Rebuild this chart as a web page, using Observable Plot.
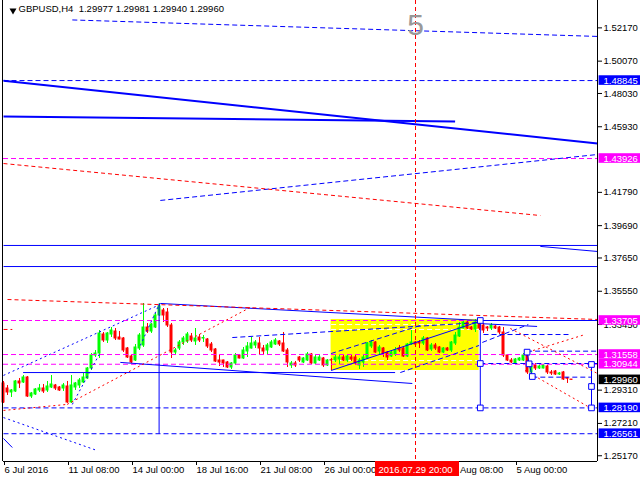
<!DOCTYPE html>
<html><head><meta charset="utf-8">
<script src="https://cdn.jsdelivr.net/npm/d3@7"></script>
<script src="https://cdn.jsdelivr.net/npm/@observablehq/plot@0.6"></script>
<style>html,body{margin:0;padding:0;background:#fff;} svg{display:block}</style>
</head><body><div id="chart"></div>
<script>
const symbol = "GBPUSD,H4";
const lastQuote = [1.29977, 1.29981, 1.29940, 1.29960];

const open = [1.29731,1.29415,1.29163,1.29226,1.29857,1.29794,1.30109,1.28910,1.29037,1.29289,
1.29415,1.29289,1.29478,1.29604,1.29478,1.29415,1.29541,1.28532,1.29478,1.29604,
1.29794,1.30046,1.30677,1.31497,1.31623,1.32822,1.32443,1.32822,1.33011,1.32632,
1.32569,1.31938,1.31434,1.31181,1.31938,1.32128,1.33263,1.33011,1.33263,1.34021,
1.34336,1.34210,1.33390,1.31686,1.31938,1.32317,1.32380,1.32695,1.32380,1.32632,
1.32569,1.32506,1.32191,1.31875,1.31181,1.31181,1.31055,1.30740,1.30992,1.31497,
1.31308,1.31749,1.31938,1.32128,1.32254,1.31938,1.31812,1.32002,1.32191,1.32380,
1.32254,1.31812,1.30866,1.30992,1.31371,1.31055,1.31181,1.31560,1.30992,1.31181,
1.31308,1.30866,1.31200,1.31181,1.31245,1.31371,1.31181,1.31371,1.31371,1.30866,
1.31055,1.31308,1.32065,1.32317,1.31749,1.31938,1.31686,1.31434,1.31560,1.31938,
1.31938,1.31434,1.32191,1.32317,1.32317,1.32254,1.32569,1.31875,1.32128,1.32002,
1.31686,1.31938,1.31812,1.32254,1.32695,1.33200,1.33579,1.33263,1.33137,1.33705,
1.33390,1.33263,1.33200,1.33326,1.33263,1.32948,1.31497,1.31181,1.30992,1.31181,
1.31181,1.31623,1.30425,1.30866,1.30677,1.30677,1.30803,1.30425,1.30488,1.30298,
1.30425,1.30060,1.29977];
const high = [1.29857,1.29604,1.29352,1.29920,1.30046,1.30235,1.30172,1.29163,1.29415,1.29668,
1.29668,1.29857,1.30235,1.29668,1.29541,1.29731,1.29857,1.30235,1.29794,1.30046,
1.30361,1.30740,1.31623,1.31812,1.33074,1.32948,1.32948,1.33263,1.33200,1.33011,
1.32632,1.32002,1.31497,1.32191,1.32885,1.34778,1.33516,1.33516,1.34147,1.34778,
1.34462,1.34462,1.33516,1.31938,1.32443,1.32695,1.32948,1.32885,1.33200,1.32822,
1.32758,1.32569,1.32317,1.31938,1.31497,1.31200,1.31118,1.31055,1.31623,1.31560,
1.32002,1.32317,1.32632,1.32443,1.32632,1.32128,1.32254,1.32443,1.32569,1.32443,
1.32948,1.31938,1.31118,1.31118,1.31434,1.31371,1.31686,1.31623,1.31497,1.31497,
1.31371,1.31245,1.31308,1.31560,1.31560,1.31497,1.31560,1.31497,1.31497,1.31308,
1.31497,1.32317,1.32443,1.32380,1.32128,1.32002,1.31749,1.31812,1.32002,1.32128,
1.32002,1.32254,1.33074,1.32380,1.32443,1.32695,1.32632,1.32254,1.32254,1.32065,
1.32002,1.32002,1.32380,1.32948,1.33579,1.33642,1.33642,1.33326,1.33768,1.33768,
1.33516,1.33326,1.33516,1.33390,1.33326,1.33263,1.31560,1.31308,1.31308,1.31371,
1.31623,1.31749,1.30929,1.30992,1.30866,1.30929,1.30866,1.30551,1.30551,1.30425,
1.30488,1.30109,1.29981];
const low = [1.28469,1.28974,1.28847,1.29163,1.29415,1.29731,1.28847,1.28784,1.28974,1.29163,
1.29100,1.29163,1.29415,1.29289,1.29226,1.29226,1.28469,1.28469,1.29289,1.29415,
1.29731,1.29983,1.30551,1.31371,1.31308,1.32317,1.32254,1.32632,1.32443,1.32480,
1.31686,1.31308,1.30992,1.31118,1.31812,1.32002,1.32885,1.32885,1.33200,1.33958,
1.33579,1.33263,1.31308,1.31497,1.31812,1.32128,1.32254,1.32317,1.32128,1.32317,
1.32317,1.31938,1.31686,1.31055,1.30803,1.30740,1.30677,1.30614,1.30866,1.31280,
1.31245,1.31371,1.31900,1.31938,1.31497,1.31497,1.31497,1.31938,1.32128,1.32065,
1.31686,1.30740,1.30677,1.30740,1.31055,1.30992,1.31118,1.30929,1.30929,1.31118,
1.30740,1.30803,1.30551,1.31055,1.30929,1.31118,1.31055,1.31118,1.30866,1.30614,
1.30740,1.31245,1.31938,1.31623,1.31560,1.31371,1.31181,1.31371,1.31434,1.31686,
1.31371,1.31371,1.32128,1.32065,1.31938,1.32128,1.31749,1.31749,1.31812,1.31623,
1.31623,1.31749,1.31686,1.32128,1.32632,1.33180,1.33137,1.33074,1.32948,1.33074,
1.32885,1.33011,1.33074,1.33137,1.32822,1.31371,1.31118,1.30992,1.30929,1.31118,
1.31118,1.30298,1.30361,1.30551,1.30614,1.30650,1.30298,1.30235,1.30235,1.30235,
1.29920,1.29731,1.29940];
const close = [1.28532,1.29163,1.29289,1.29857,1.29731,1.30109,1.28910,1.29100,1.29352,1.29415,
1.29226,1.29541,1.29668,1.29415,1.29289,1.29604,1.28532,1.29604,1.29731,1.29920,
1.30109,1.30677,1.31497,1.31623,1.32885,1.32443,1.32885,1.33074,1.32569,1.32506,
1.31812,1.31371,1.31055,1.32002,1.32758,1.33263,1.33011,1.33453,1.34021,1.34588,
1.34021,1.33390,1.31686,1.31812,1.32317,1.32569,1.32822,1.32443,1.32569,1.32443,
1.32600,1.32065,1.31812,1.31118,1.31055,1.30992,1.30740,1.30992,1.31497,1.31308,
1.31812,1.32065,1.32254,1.32317,1.31938,1.31749,1.32128,1.32317,1.32443,1.32191,
1.31749,1.31055,1.30992,1.30866,1.31181,1.31308,1.31560,1.30992,1.31371,1.31371,
1.30866,1.31181,1.31181,1.31371,1.31371,1.31181,1.31434,1.31245,1.30992,1.31181,
1.31371,1.32254,1.32317,1.31686,1.32002,1.31623,1.31371,1.31686,1.31812,1.31812,
1.31434,1.32191,1.32317,1.32191,1.32254,1.32569,1.31812,1.32128,1.31938,1.31686,
1.31938,1.31812,1.32317,1.32758,1.33263,1.33579,1.33200,1.33137,1.33579,1.33200,
1.33074,1.33200,1.33390,1.33200,1.32948,1.31497,1.31181,1.31055,1.31245,1.31308,
1.31497,1.30425,1.30803,1.30677,1.30803,1.30866,1.30425,1.30361,1.30298,1.30361,
1.29983,1.30030,1.29960];

const timeTicks = [0, 16, 32, 48, 64, 80, 112, 128];
const timeLabels = ["6 Jul 2016", "11 Jul 08:00", "14 Jul 00:00", "18 Jul 16:00", "21 Jul 08:00",
  "26 Jul 00:00", "2 Aug 08:00", "5 Aug 00:00"];
const priceTicks = [1.52170, 1.50070, 1.48030, 1.45930, 1.41790, 1.39690, 1.37650,
  1.35550, 1.33450, 1.29310, 1.27210, 1.25170];
const labelPrices = [1.48845, 1.43926, 1.33705, 1.31558, 1.30944, 1.29960, 1.28190, 1.26561];
const labelColors = ["#0000ff", "#ff00ff", "#ff00ff", "#ff00ff", "#ff00ff", "#000000", "#0000ff", "#0000ff"];
const markedBar = 103;
const markedTime = "2016.07.29 20:00";
const waveLabel = "5";

// trend objects: [bar1, price1, bar2, price2]
const blueDashedSegs = [
  [0, 1.48845, 148.5, 1.48845], [0, 1.28190, 148.5, 1.28190], [0, 1.26561, 148.5, 1.26561],
  [17.2, 1.5267, 148.5, 1.5163], [39.2, 1.4128, 148.5, 1.4418], [57.2, 1.3263, 119.2, 1.3358],
  [81.9, 1.3162, 104.2, 1.3339], [99.2, 1.3042, 118.9, 1.3213], [130.9, 1.3177, 148.5, 1.3177],
  [119.2, 1.3099, 148.5, 1.3099], [132.2, 1.3013, 146.9, 1.3013], [120.0, 1.3282, 141.7, 1.3282],
  [119.7, 1.3232, 131.2, 1.3345]
];
const blueDottedSegs = [
  [0, 1.3024, 39.2, 1.3472], [0, 1.2758, 23.4, 1.2550], [17.2, 1.2841, 24.2, 1.3169], [34.2, 1.3213, 38.9, 1.3472]
];
const blueSolidSegs = [
  [0, 1.3844, 148.5, 1.3844], [134.2, 1.3838, 148.5, 1.3806], [0, 1.3711, 148.5, 1.3711],
  [4.9, 1.3042, 97.9, 1.3042], [29.2, 1.3106, 102.2, 1.2973], [38.9, 1.3478, 38.9, 1.26561],
  [81.9, 1.3055, 118.9, 1.3364], [39.2, 1.3478, 119.2, 1.33705], [119.2, 1.33705, 148.5, 1.33705],
  [0, 1.2626, 2.2, 1.2569], [119.2, 1.33705, 119.2, 1.28190], [130.9, 1.3171, 131.4, 1.3097],
  [131.4, 1.3097, 132.2, 1.3017], [147, 1.3093, 147, 1.28190], [119.9, 1.3350, 133.4, 1.3333]
];
const blueThickSegs = [[0, 1.4884, 148.5, 1.4487], [0, 1.4658, 112.9, 1.4626]];
const redDashedSegs = [[0, 1.4361, 134.2, 1.4033], [1, 1.3503, 148.5, 1.3377], [0, 1.3314, 2.2, 1.3314]];
const redDottedSegs = [
  [0, 1.2803, 15.9, 1.2841], [15.9, 1.2841, 61.7, 1.3453], [126.7, 1.3320, 148.5, 1.3036],
  [130.4, 1.3055, 147.4, 1.2809], [132.4, 1.3181, 145.4, 1.3282]
];
const magentaLevels = [1.43926, 1.33705, 1.31558, 1.30944];
const whiteLevels = [1.3345, 1.3314, 1.3118];
const yellowZone = [81.9, 118.9, 1.3055, 1.3377];
const markerPoints = [[119.2, 1.33705], [119.2, 1.3099], [119.2, 1.2819], [130.9, 1.3171], [131.4, 1.3097],
  [132.2, 1.3017], [147, 1.3093], [147, 1.2954], [147, 1.2819]];

const yMin = 1.24808, yMax = 1.53897, xMax = 148.5;

const candles = open.map((o, i) => ({i, o, h: high[i], l: low[i], c: close[i],
  col: close[i] >= open[i] ? "#00ff00" : "#ff0000"}));
const seg = a => a.map(([x1, y1, x2, y2]) => ({x1, y1, x2, y2}));
const segLink = (arr, o) => Plot.link(seg(arr), {x1: "x1", y1: "y1", x2: "x2", y2: "y2", ...o});
const labels = labelPrices.map((p, k) => ({p, color: labelColors[k]}));

const chart = Plot.plot({
  width: 640, height: 480,
  marginLeft: 3, marginRight: 43, marginTop: 0, marginBottom: 19,
  style: {background: "#fff", fontFamily: "Liberation Sans, Arial, sans-serif", fontSize: "9.5px", color: "#000"},
  x: {domain: [0, xMax]},
  y: {domain: [yMin, yMax]},
  color: {type: "identity"},
  marks: [
    Plot.rect([yellowZone], {x1: d => d[0], x2: d => d[1], y1: d => d[2], y2: d => d[3], fill: "#ffff00"}),
    Plot.link(whiteLevels, {x1: yellowZone[0], x2: yellowZone[1], y1: d => d, y2: d => d, stroke: "#fff", strokeDasharray: "5,3"}),
    Plot.ruleX(candles, {x: "i", y1: "l", y2: "h", stroke: "col"}),
    Plot.rect(candles, {x1: d => d.i - 0.375, x2: d => d.i + 0.375, y1: "o", y2: "c", fill: "col", insetTop: -0.5, insetBottom: -0.5}),
    Plot.ruleY(magentaLevels, {stroke: "#ff00ff", strokeDasharray: "5,3"}),
    segLink(blueThickSegs, {stroke: "#0000ff", strokeWidth: 2}),
    segLink(blueSolidSegs, {stroke: "#0000ff"}),
    segLink(blueDashedSegs, {stroke: "#0000ff", strokeDasharray: "5,3"}),
    segLink(blueDottedSegs, {stroke: "#0000ff", strokeDasharray: "2,3"}),
    segLink(redDashedSegs, {stroke: "#ff0000", strokeDasharray: "4,3"}),
    segLink(redDottedSegs, {stroke: "#ff0000", strokeDasharray: "2,3"}),
    Plot.ruleX([markedBar], {stroke: "#ff0000", strokeDasharray: "4,3"}),
    Plot.dot(markerPoints, {x: d => d[0], y: d => d[1], symbol: "square", r: 3.2, stroke: "#0000ff", fill: "#fff", strokeWidth: 1}),
    Plot.ruleX([0], {stroke: "#000", dx: -1}),
    Plot.ruleX([xMax], {stroke: "#000"}),
    Plot.ruleY([yMin], {stroke: "#000"}),
    Plot.axisY({anchor: "right", ticks: priceTicks, tickFormat: d => d.toFixed(5), tickSize: 4, tickPadding: 2}),
    Plot.axisX({ticks: timeTicks, tickFormat: d => timeLabels[timeTicks.indexOf(d)], tickSize: 4, tickPadding: 1, textAnchor: "start", dx: 1}),
    Plot.rect(labels, {x1: 148.9, x2: 161, y1: "p", y2: "p", insetTop: -4.8, insetBottom: -4.8, fill: "color"}),
    Plot.text(labels, {x: 150, y: "p", text: d => d.p.toFixed(5), fill: "#fff", textAnchor: "start"}),
    Plot.rect([markedBar], {x1: d => d - 10, x2: d => d + 11, y1: yMin, y2: yMin, insetTop: 0, insetBottom: -15, fill: "#ff0000"}),
    Plot.text([markedTime], {x: markedBar, y: yMin, dy: 8, text: d => d, fill: "#fff", textAnchor: "middle"}),
    Plot.text([{i: markedBar, t: waveLabel}], {x: "i", text: "t", frameAnchor: "top", dy: 13, lineAnchor: "top", fontSize: 30, fill: "#999"}),
    Plot.dot([0], {frameAnchor: "top-left", dx: 9.5, dy: 10, symbol: "triangle", rotate: 180, r: 2.6, fill: "#000", stroke: "none"}),
    Plot.text([`${symbol}  ${lastQuote.map(v => v.toFixed(5)).join(" ")}`], {frameAnchor: "top-left", dx: 15, dy: 5, lineAnchor: "top", text: d => d, fill: "#000"})
  ]
});
document.getElementById("chart").appendChild(chart);
</script>
</body></html>
